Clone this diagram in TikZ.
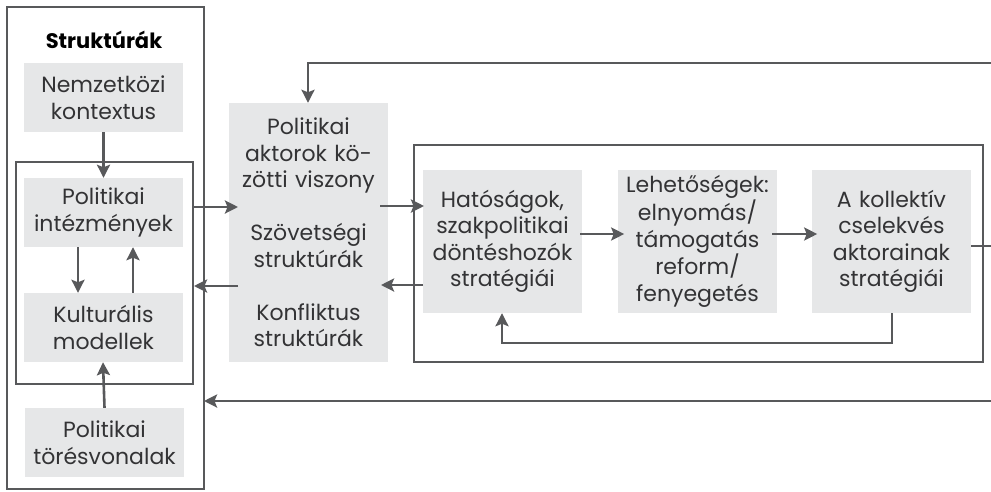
\documentclass[tikz,border=0pt]{standalone}
\usepackage{fontspec}
\setmainfont{Poppins}
\usetikzlibrary{arrows.meta}
\definecolor{boxgray}{HTML}{E6E7E8}
\definecolor{linegray}{HTML}{58595B}
\definecolor{txtgray}{HTML}{333335}
\tikzset{
  gbox/.style={fill=boxgray, inner sep=0pt, text width=159pt, align=center,
    text=txtgray, font=\fontsize{22}{26.5}\selectfont},
  frame/.style={draw=linegray, line width=2.5pt},
  conn/.style={draw=linegray, line width=2.6pt, -{Stealth[length=13pt,width=13pt,inset=2.5pt]}},
  plain/.style={draw=linegray, line width=2.6pt},
}
\begin{document}
\begin{tikzpicture}[x=1pt,y=-1pt]
\useasboundingbox[fill=white] (0,0) rectangle (991,491);
% frames
\draw[frame] (7,7) rectangle (204,489);
\draw[frame] (16,162) rectangle (193,384);
\draw[frame] (414,145) rectangle (983,362);
% title
\node[text=black, font=\fontsize{21}{24}\selectfont\bfseries] (title) at (104,40) {Struktúrák};
% left boxes
\node[gbox, minimum height=69pt] (nemz) at (103.5,97.5) {Nemzetközi\\kontextus};
\node[gbox, minimum height=69pt] (polint) at (103.5,212.5) {Politikai\\intézmények};
\node[gbox, minimum height=69pt] (kult) at (103.5,327.5) {Kulturális\\modellek};
\node[gbox, minimum height=69pt] (tores) at (104.5,442.5) {Politikai\\törésvonalak};
% middle box
\node[gbox, minimum height=259pt] (mid) at (308.5,232.5) {Politikai\\aktorok kö-\\zötti viszony\\[26.5pt]Szövetségi\\struktúrák\\[26.5pt]Konfliktus\\struktúrák};
% right boxes
\node[gbox, minimum height=143pt] (hat) at (502.5,241.5) {Hatóságok,\\szakpolitikai\\döntéshozók\\stratégiái};
\node[gbox, minimum height=143pt] (leh) at (697.5,241.5) {Lehetőségek:\\elnyomás/\\támogatás\\reform/\\fenyegetés};
\node[gbox, minimum height=143pt] (koll) at (891.5,241.5) {A kollektív\\cselekvés\\aktorainak\\stratégiái};
% coordinates
\coordinate (topR) at (991,63);
\coordinate (topC) at (308,63);
\coordinate (botR) at (991,401);
\coordinate (botL) at (204,401);
\coordinate (midR) at (991,246);
\coordinate (fbA) at (892,343);
\coordinate (fbB) at (502,343);
% left arrows
\draw[conn] (nemz.south) -- (polint.north);
\draw[conn] ([xshift=-25.5pt]polint.south) -- ([xshift=-25.5pt]kult.north);
\draw[conn] ([xshift=29.5pt]kult.north) -- ([xshift=29.5pt]polint.south);
\draw[conn] (tores.north) -- ([xshift=-0.5pt]kult.south);
% between left and middle
\draw[conn] (193,207) -- (238,207);
\draw[conn] (238,286) -- (194,286);
% between middle and right
\draw[conn] (380,206) -- (424,206);
\draw[conn] (423,285) -- (381,285);
% right chain
\draw[conn] (hat.east) ++(-2pt,7.5pt) -- ++(44pt,0);
\draw[conn] (leh.east) ++(-5pt,7.5pt) -- ++(45pt,0);
\draw[conn] (koll.south -| fbA) -- (fbA) -- (fbB) -- (hat.south -| fbB);
% feedback lines
\draw[plain] (koll.east |- midR) -- (midR);
\draw[conn] (topR) -- (topC) -- (mid.north -| topC);
\draw[conn] (botR) -- (botL);
\end{tikzpicture}
\end{document}
